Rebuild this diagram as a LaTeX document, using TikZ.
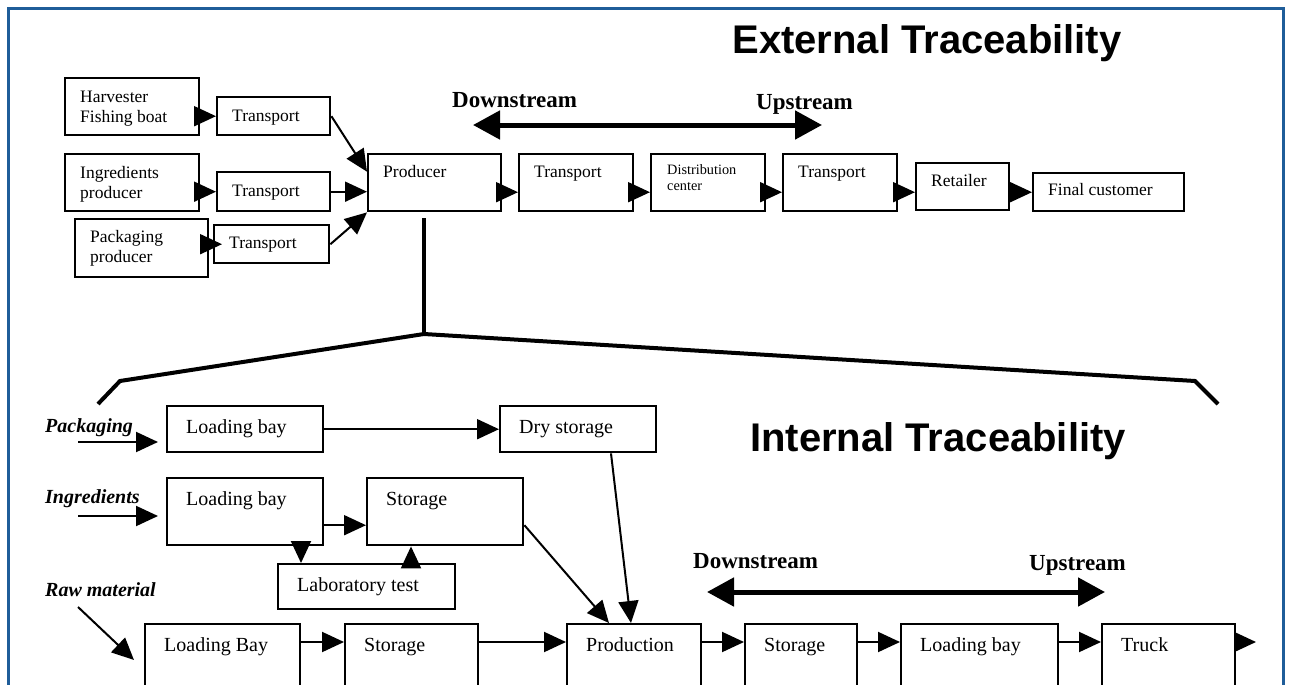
\documentclass[tikz,border=0pt]{standalone}
\usepackage{fontspec}
\setmainfont{Liberation Serif}
\newfontfamily\headfont{Liberation Sans}
\usepackage{tikz}
\usetikzlibrary{calc}
\usetikzlibrary{arrows.meta}
\definecolor{frameblue}{RGB}{31,93,153}
\tikzset{box/.style={rectangle,draw=black,line width=2.4pt,anchor=north west,inner sep=0pt}}
\tikzset{txt/.style={anchor=base west,inner sep=0pt,align=left,font=\fontsize{17.5}{20}\selectfont}}
\tikzset{txtb/.style={anchor=base west,inner sep=0pt,align=left,font=\fontsize{20}{24}\selectfont}}
\tikzset{arr/.style={line width=2pt,arrows={-Triangle[length=22pt,width=20pt]}}}
\tikzset{dbl/.style={line width=5pt,arrows={Triangle[length=27pt,width=28pt]-Triangle[length=27pt,width=28pt]}}}
\tikzset{brack/.style={line width=4pt}}
\tikzset{stream/.style={anchor=base west,inner sep=0pt,font=\fontsize{23}{26}\selectfont\bfseries}}
\tikzset{inlbl/.style={anchor=base west,inner sep=0pt,font=\fontsize{20}{24}\selectfont\bfseries\itshape}}
\tikzset{title/.style={anchor=base,inner sep=0pt,font=\headfont\fontsize{40}{44}\selectfont\bfseries}}

\begin{document}
\begin{tikzpicture}[x=1pt,y=-1pt]

\clip (0,0) rectangle (1290,685);
\draw[draw=frameblue,line width=3pt] (8,9) rectangle (1283,720);

\node (ext) at (927,53) [title] {External Traceability};
\node (int) at (938,451) [title] {Internal Traceability};

\foreach \n/\x/\y/\w/\h/\b/\t in {harv/64/77/134/57/45/{Harvester\\Fishing boat}, tr1/216/96/113/38/25/Transport,
	ingp/64/153/134/57/45/{Ingredients\\producer}, tr2/216/171/113/39/25/Transport,
	pkgp/74/218/133/58/44/{Packaging\\producer}, tr3/213/224/115/38/24/Transport,
	prod/367/153/133/57/24/Producer, tr4/518/153/114/57/24/Transport, tr5/782/153/114/57/24/Transport,
	ret/915/162/93/47/24/Retailer, fin/1032/172/151/38/23/{Final customer}} {
	\node (\n) at (\x,\y) [box,minimum width=\w pt,minimum height=\h pt] {};
	\node (\n-t) at ($(\n.north west)+(16,\b)$) [txt] {\t};
}
\node (dist) at (650,153) [box,minimum width=114pt,minimum height=57pt] {};
\node (dist-t) at ($(dist.north west)+(17,37)$) [txt,font=\fontsize{14.3}{16}\selectfont] {Distribution\\center};

\draw[arr] (harv.east |- tr1) -- (tr1.west);
\draw[arr] (ingp.east |- tr2) -- (tr2.west);
\draw[arr] ($(pkgp.east |- tr3)+(-7,0)$) -- ($(tr3.west)+(9,0)$);
\draw[arr] (tr1.east) -- ([yshift=11pt]prod.west);
\draw[arr] (tr2.east) -- (prod.west |- tr2);
\draw[arr] (tr3.east) -- (prod.south west);
\foreach \a/\b in {prod/tr4,tr4/dist,dist/tr5,tr5/ret,ret/fin} {
	\draw[arr] (\a.east |- fin) -- (\b.west |- fin);
}

\coordinate (down1) at (473,125);
\coordinate (up1) at (822,125);
\draw[dbl] (down1) -- (up1);
\node (down1-t) at (452,107) [stream] {Downstream};
\node (up1-t) at (756,109) [stream] {Upstream};

\coordinate (stem) at (424,218);
\coordinate (apex) at (424,334);
\coordinate (lcrn) at (120,381);
\coordinate (lend) at (98,404);
\coordinate (rcrn) at (1195,381);
\coordinate (rend) at (1218,404);
\draw[brack] (stem) -- (apex);
\draw[brack] (lend) -- (lcrn) -- (apex) -- (rcrn) -- (rend);

\foreach \n/\x/\y/\w/\h/\t in {lb1/166/405/156/46/{Loading bay}, dry/499/405/156/46/{Dry storage},
	lb2/166/477/156/67/{Loading bay}, sto1/366/477/156/67/Storage, lab/277/563/177/45/{Laboratory test},
	lbr/144/623/155/90/{Loading Bay}, sto2/344/623/133/90/Storage, prodn/566/623/134/90/Production,
	sto3/744/623/112/90/Storage, lb3/900/623/157/90/{Loading bay}, truck/1101/623/133/90/Truck} {
	\node (\n) at (\x,\y) [box,minimum width=\w pt,minimum height=\h pt] {};
	\node (\n-t) at ($(\n.north west)+(20,28)$) [txtb] {\t};
}

\node (pk-l) at (45,432) [inlbl] {Packaging};
\node (ig-l) at (45,503) [inlbl] {Ingredients};
\node (rw-l) at (45,596) [inlbl] {Raw material};
\coordinate (pk0) at (78,442);
\coordinate (pk1) at (158,442);
\coordinate (ig0) at (78,516);
\coordinate (ig1) at (158,516);
\coordinate (rw0) at (78,607);
\coordinate (rw1) at (134,660);
\draw[arr] (pk0) -- (pk1);
\draw[arr] (ig0) -- (ig1);
\draw[arr] (rw0) -- (rw1);

\draw[arr] (lb1.east) -- (dry.west);
\draw[arr] ([yshift=-13.5pt]lb2.east) -- ([yshift=-13.5pt]sto1.west);
\coordinate (lbdown) at ([xshift=135pt]lb2.south west);
\coordinate (labup) at ([xshift=134pt]lab.north west);
\draw[arr] (lbdown) -- (lbdown |- lab.north);
\draw[arr] (labup) -- (labup |- sto1.south);
\draw[arr] ([yshift=-13.5pt]sto1.east) -- ([xshift=43pt]prodn.north west);
\draw[arr] ([xshift=112pt]dry.south west) -- ([xshift=65pt]prodn.north west);
\foreach \a/\b in {lbr/sto2,sto2/prodn,prodn/sto3,sto3/lb3,lb3/truck} {
	\draw[arr] ([yshift=-19pt]\a.north east) -- ([yshift=-19pt]\b.north west);
}
\coordinate (out) at (1256,642);
\draw[arr] ([yshift=-19pt]truck.north east) -- (out);

\coordinate (down2) at (707,592);
\coordinate (up2) at (1105,592);
\draw[dbl] (down2) -- (up2);
\node (down2-t) at (693,568) [stream] {Downstream};
\node (up2-t) at (1029,570) [stream] {Upstream};

\end{tikzpicture}
\end{document}
